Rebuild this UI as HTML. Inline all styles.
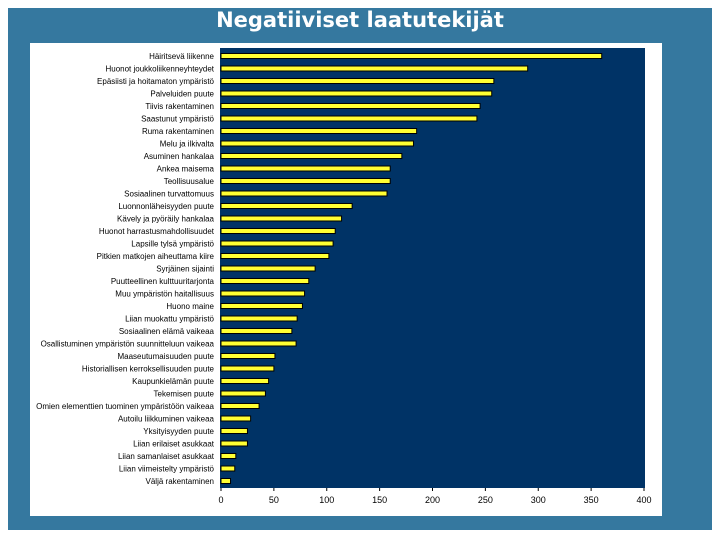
<!DOCTYPE html>
<html><head><meta charset="utf-8"><style>
body{margin:0;width:720px;height:540px;background:#fff;overflow:hidden;font-family:"Liberation Sans",sans-serif}
#frame{position:absolute;left:8px;top:8px;width:704px;height:522px;background:#35789f}
#title{position:absolute;left:0;top:8px;width:720px;text-align:center;color:#fff;font-weight:bold;font-size:21px;font-family:"DejaVu Sans",sans-serif}
#panel{position:absolute;left:30px;top:43px;width:632px;height:473px;background:#fff}
</style></head><body>
<div id="frame"></div>
<div id="title">Negatiiviset laatutekijät</div>
<div id="panel"></div>
<svg id="chart" width="720" height="540" style="position:absolute;left:0;top:0"></svg>
<script>
const categories=["Häiritsevä liikenne","Huonot joukkoliikenneyhteydet","Epäsiisti ja hoitamaton ympäristö","Palveluiden puute","Tiivis rakentaminen","Saastunut ympäristö","Ruma rakentaminen","Melu ja ilkivalta","Asuminen hankalaa","Ankea maisema","Teollisuusalue","Sosiaalinen turvattomuus","Luonnonläheisyyden puute","Kävely ja pyöräily hankalaa","Huonot harrastusmahdollisuudet","Lapsille tylsä ympäristö","Pitkien matkojen aiheuttama kiire","Syrjäinen sijainti","Puutteellinen kulttuuritarjonta","Muu ympäristön haitallisuus","Huono maine","Liian muokattu ympäristö","Sosiaalinen elämä vaikeaa","Osallistuminen ympäristön suunnitteluun vaikeaa","Maaseutumaisuuden puute","Historiallisen kerroksellisuuden puute","Kaupunkielämän puute","Tekemisen puute","Omien elementtien tuominen ympäristöön vaikeaa","Autoilu liikkuminen vaikeaa","Yksityisyyden puute","Liian erilaiset asukkaat","Liian samanlaiset asukkaat","Liian viimeistelty ympäristö","Väljä rakentaminen"];
const values=[360,290,258,256,245,242,185,182,171,160,160,157,124,114,108,106,102,89,83,79,77,72,67,71,51,50,45,42,36,28,25,25,14,13,9];
const ticks=[0,50,100,150,200,250,300,350,400];
const NS="http://www.w3.org/2000/svg";
const svg=document.getElementById('chart');
const X0=221,X1=644,Y0=48,Y1=488,MAX=400;
const x=v=>X0+(v/MAX)*(X1-X0);
const step=12.5,first=56;
const y=i=>first+i*step;
function mk(t,a){const e=document.createElementNS(NS,t);for(const k in a)e.setAttribute(k,a[k]);svg.appendChild(e);return e;}
const bg=mk('rect',{x:220,y:Y0,width:X1-220+1,height:Y1-Y0,fill:'#003366'});


ticks.forEach(t=>{
  const l=mk('line',{x1:x(t),x2:x(t),y1:Y1,y2:Y1+3,stroke:'#000'});
  
  
  const tx=mk('text',{x:x(t),y:Y1+15,'text-anchor':'middle','font-size':'9',fill:'#000','font-family':'Liberation Sans, sans-serif'});
  tx.textContent=t;
  
  
});
categories.forEach((c,i)=>{
  const r=mk('rect',{x:X0,y:y(i)-2.5,width:x(values[i])-X0,height:5,fill:'#ffff33',stroke:'#000','stroke-width':1});
  
  
  const t=mk('text',{x:214,y:y(i)+3,'text-anchor':'end','font-size':'8','textLength':'','fill':'#000','font-family':'Liberation Sans, sans-serif'});
  t.removeAttribute('textLength');
  t.textContent=c;
  
  
});
</script>
</body></html>
